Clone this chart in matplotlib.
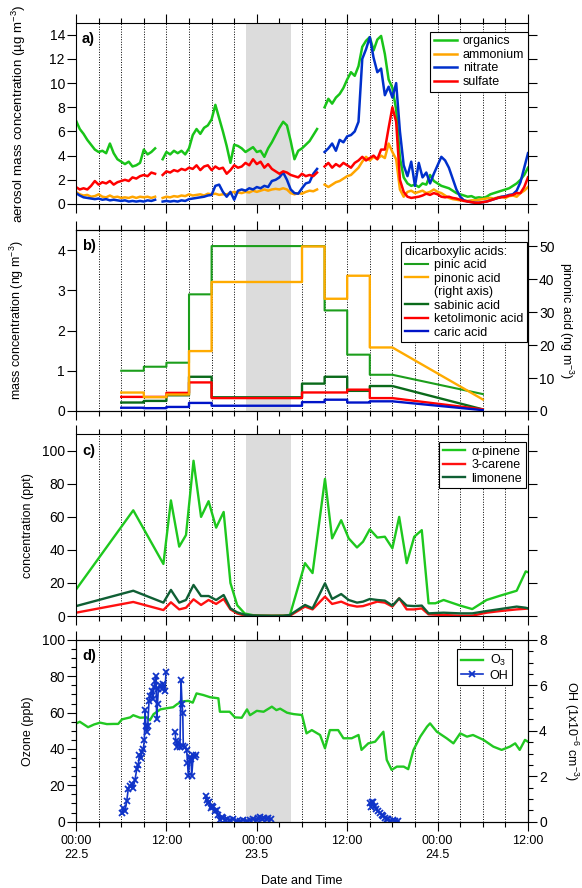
"""Four-panel time series: aerosol, dicarboxylic acids, monoterpenes, ozone/OH."""

import matplotlib

matplotlib.use("Agg")
import matplotlib.pyplot as plt
import numpy as np
from matplotlib.lines import Line2D
from matplotlib.ticker import MultipleLocator, NullFormatter

plt.rcParams["font.family"] = ["Liberation Sans", "DejaVu Sans"]
plt.rcParams["mathtext.fontset"] = "custom"
plt.rcParams["mathtext.rm"] = "Liberation Sans"
plt.rcParams["mathtext.it"] = "Liberation Sans:italic"
plt.rcParams["axes.linewidth"] = 0.8

nan = np.nan

# ---- panel a: AMS aerosol composition (hours since 22.5 00:00, half-hour steps)
aerosol_hours = np.arange(0, 60.5, 0.5)
organics = [
    6.9, 6.2, 5.8, 5.3, 4.9, 4.5, 4.3, 4.4, 4.2, 5.0,
    4.2, 3.7, 3.5, 3.3, 3.5, 3.1, 3.2, 3.4, 4.5, 4.1,
    4.3, 4.6, nan, 3.7, 4.3, 4.1, 4.4, 4.2, 4.4, 4.1,
    4.6, 5.7, 6.2, 5.8, 6.3, 6.5, 7.0, 8.2, 7.1, 6.0,
    4.8, 3.4, 4.9, 4.8, 4.6, 4.3, 4.5, 4.7, 4.3, 4.4,
    3.9, 4.6, 5.1, 5.7, 6.3, 6.8, 6.5, 5.2, 3.7, 4.4,
    4.6, 4.9, 5.2, 5.7, 6.2, nan, 8.0, 8.7, 8.3, 8.8,
    9.1, 9.6, 10.3, 10.9, 10.6, 11.4, 13.0, 13.5, 13.8, 12.7,
    13.6, 13.9, 12.4, 10.3, 9.6, 7.8, 3.8, 2.2, 1.7, 1.5,
    1.6, 1.4, 1.7, 1.6, 2.4, 1.9, 1.7, 1.5, 1.4, 1.3,
    1.1, 0.9, 0.8, 0.7, 0.6, 0.65, 0.5, 0.55, 0.5, 0.6,
    0.8, 0.9, 1.0, 1.1, 1.2, 1.3, 1.5, 1.7, 2.0, 2.4,
    3.0,
]
ammonium = [
    1.0, 0.8, 0.7, 0.75, 0.6, 0.65, 0.8, 0.6, 0.55, 0.7,
    0.55, 0.6, 0.5, 0.55, 0.5, 0.6, 0.5, 0.6, 0.55, 0.6,
    0.5, 0.6, nan, 0.5, 0.6, 0.55, 0.65, 0.6, 0.7, 0.65,
    0.8, 0.7, 0.75, 0.8, 0.7, 0.85, 0.8, 0.85, 0.75, 0.8,
    0.8, 0.9, 1.0, 0.95, 0.9, 1.0, 0.95, 1.1, 1.0, 1.1,
    1.2, 1.1, 1.2, 1.25, 1.2, 1.3, 1.2, 0.9, 0.8, 0.9,
    0.85, 1.0, 1.1, 1.05, 1.2, nan, 1.6, 1.4, 1.6, 1.8,
    1.9, 2.1, 2.3, 2.4, 2.7, 3.0, 3.5, 3.9, 3.6, 3.9,
    3.7, 4.0, 3.8, 5.0, 4.3, 3.7, 1.2, 0.6, 1.0, 1.1,
    0.9, 1.0, 1.1, 0.9, 1.0, 1.2, 1.0, 0.9, 0.7, 0.5,
    0.4, 0.35, 0.3, 0.3, 0.25, 0.3, 0.3, 0.35, 0.4, 0.45,
    0.5, 0.45, 0.55, 0.6, 0.5, 0.65, 0.7, 0.6, 0.9, 1.1,
    1.4,
]
nitrate = [
    0.9, 0.7, 0.55, 0.5, 0.45, 0.4, 0.45, 0.35, 0.4, 0.3,
    0.35, 0.3, 0.25, 0.3, 0.2, 0.25, 0.2, 0.25, 0.2, 0.3,
    0.25, 0.35, nan, 0.2, 0.25, 0.2, 0.25, 0.2, 0.3, 0.25,
    0.4, 0.45, 0.5, 0.55, 0.6, 0.7, 0.75, 1.5, 1.6, 1.0,
    0.6, 1.0, 0.35, 1.1, 1.2, 1.1, 1.3, 1.2, 1.4, 1.3,
    1.5, 1.4, 1.9, 2.0, 2.2, 2.6, 2.0, 1.2, 0.9, 0.85,
    1.3, 1.7, 1.8, 2.5, 2.9, nan, 4.3, 4.6, 5.0, 4.4,
    5.3, 5.1, 5.6, 5.7, 6.0, 6.8, 12.0, 12.8, 13.8, 12.1,
    10.9, 11.2, 9.0, 9.7, 8.8, 10.0, 6.0, 3.2, 2.3, 3.5,
    1.5, 3.4, 2.2, 2.6, 1.7, 2.5, 3.2, 3.9, 3.6, 3.0,
    2.1, 1.2, 0.6, 0.3, 0.2, 0.15, 0.1, 0.1, 0.15, 0.2,
    0.3, 0.4, 0.5, 0.6, 0.65, 0.75, 0.8, 1.1, 1.8, 3.0,
    4.2,
]
sulfate = [
    1.4, 1.2, 1.3, 1.2, 1.5, 1.9, 1.6, 1.8, 1.7, 1.9,
    1.6, 1.8, 1.9, 2.0, 1.9, 2.2, 2.1, 2.3, 2.4, 2.3,
    2.6, 2.5, nan, 2.4, 2.7, 2.6, 2.8, 2.7, 2.9, 2.8,
    3.0, 2.9, 3.2, 2.8, 3.1, 3.2, 2.8, 3.1, 2.9, 3.0,
    2.5, 2.8, 3.2, 3.0, 3.1, 3.4, 3.2, 3.7, 3.3, 3.5,
    3.0, 3.3, 2.9, 2.7, 2.5, 2.7, 2.6, 2.4, 2.3, 2.2,
    2.5, 2.3, 2.4, 2.3, 2.6, nan, 3.1, 3.4, 3.0, 3.3,
    3.1, 3.4, 3.2, 3.0, 3.4, 3.6, 3.9, 3.6, 3.8, 4.0,
    3.7, 4.5, 4.5, 6.3, 8.0, 6.8, 2.0, 1.0, 0.6, 0.5,
    0.55, 0.6, 0.7, 0.85, 0.75, 0.9, 0.8, 0.6, 0.55, 0.6,
    0.5, 0.45, 0.35, 0.25, 0.2, 0.15, 0.1, 0.1, 0.15, 0.2,
    0.3, 0.4, 0.5, 0.55, 0.6, 0.7, 0.75, 0.9, 0.9, 1.4,
    2.2,
]

# ---- panel b: filter samples (start/stop hours), last sample drawn as a ramp
filter_edges = [6, 9, 12, 15, 18, 30, 33, 36, 39, 42]
filter_end_hour = 54
pinic = [1.0, 1.1, 1.2, 2.9, 4.1, 4.1, 2.5, 1.4, 0.9]
pinic_end = 0.42
pinonic = [5.6, 4.2, 5.0, 18.2, 39.2, 50.0, 34.1, 41.1, 19.3]
pinonic_end = 3.5
sabinic = [0.21, 0.25, 0.39, 0.85, 0.34, 0.68, 0.85, 0.5, 0.62]
sabinic_end = 0.04
ketolimonic = [0.35, 0.35, 0.45, 0.71, 0.32, 0.46, 0.46, 0.53, 0.32]
ketolimonic_end = 0.04
caric = [0.08, 0.07, 0.1, 0.2, 0.13, 0.22, 0.28, 0.21, 0.24]
caric_end = 0.02

# ---- panel c: monoterpenes
terpene_hours = [
    0, 7.6, 11.6, 12.6, 13.7, 14.6, 15.6, 16.6, 17.6, 18.6, 19.6, 20.5, 21.4,
    22.4, 23.5, 24.5, 26.0, 27.5, 28.4, 30.4, 31.4, 33.05, 34.0, 35.2, 36.2,
    37.3, 38.1, 39.0, 40.0, 41.0, 42.0, 42.9, 43.9, 44.9, 45.9, 46.8, 47.7,
    48.8, 51.0, 52.6, 54.5, 56.3, 58.5, 59.7, 60,
]
alpha_pinene = [
    16, 64, 31.5, 70, 42, 49, 94, 60, 69.5, 53.5, 63, 20, 6.5,
    1.5, 0.5, 0.3, 0.2, 0.3, 0.6, 32, 26, 83, 47, 58, 47,
    41.5, 45, 52.5, 47.5, 48, 41, 60, 32, 48, 52, 7.7, 7.7,
    9.7, 6.3, 4.2, 9.7, 12.3, 15.3, 27, 26.5,
]
carene = [
    2.0, 8.5, 3.6, 8.3, 4.0, 5.0, 10.1, 6.7, 9.7, 7.3, 10.3, 4.0, 1.5,
    0.3, 0.1, 0.1, 0.1, 0.1, 0.2, 5.7, 4.0, 11.7, 7.3, 8.7, 6.7,
    5.7, 6.0, 7.3, 8.7, 8.1, 5.7, 10.7, 4.0, 4.0, 4.6, 1.0, 0.8,
    0.6, 0.2, 0.2, 2.0, 3.0, 4.0, 4.4, 4.6,
]
limonene = [
    6.0, 15.3, 8.1, 15.8, 8.1, 9.7, 18.8, 12.1, 12.1, 9.7, 12.7, 4.6, 2.2,
    0.8, 0.3, 0.2, 0.1, 0.1, 0.6, 6.7, 4.6, 19.8, 10.3, 13.3, 9.7,
    8.1, 8.7, 10.3, 9.7, 9.3, 6.3, 10.7, 6.3, 6.0, 6.3, 1.6, 1.8,
    2.0, 1.6, 1.6, 3.0, 4.2, 5.7, 5.0, 4.6,
]

# ---- panel d: ozone and OH
o3_hours = [
    0, 0.5, 1.6, 2.4, 3.2, 4.1, 5.0, 5.6, 6.1, 6.6, 7.2, 7.6, 8.5, 9.4, 9.8,
    10.3, 11.2, 12.0, 12.9, 13.4, 14.0, 14.9, 15.5, 16.0, 16.9, 17.8, 18.9,
    19.1, 20.4, 21.1, 22.0, 22.7, 23.1, 24.0, 24.9, 26.0, 26.6, 27.1, 28.0,
    28.4, 28.9, 30.0, 30.6, 31.3, 32.4, 33.05, 33.7, 34.8, 35.5, 36.6, 37.5,
    37.9, 38.8, 39.7, 40.8, 41.25, 41.9, 42.6, 43.5, 44.1, 44.8, 45.7, 46.6,
    47.0, 47.9, 49.2, 50.1, 51.0, 51.9, 52.7, 54.1, 55.4, 56.5, 57.6, 58.3,
    58.9, 59.6, 60,
]
o3_ppb = [
    54, 55, 52, 53.5, 54.5, 53.7, 53.8, 53.8, 56.3, 56.8, 57.4, 58.6, 57.2,
    57.4, 55.8, 59.2, 61.8, 62.4, 63, 64.6, 66.1, 66.5, 65.5, 70.6, 69.7,
    68.5, 67.9, 60.5, 60.5, 57.4, 57.2, 61.8, 58.6, 61, 60.5, 63.3, 61.4,
    62.2, 60, 59.6, 59.2, 58.7, 48.6, 50.4, 47.7, 40.4, 50.4, 50.4, 45.9,
    45.9, 47.7, 39.5, 43.1, 44, 49.5, 34, 28.5, 30.3, 30.3, 28.9, 39.5,
    46.8, 52.3, 54.1, 49.5, 45.9, 43.1, 48.6, 46.8, 47.7, 45, 41.3, 39.5,
    41.3, 43.1, 39.5, 45, 44,
]
oh_hours = [
    6.07, 6.28, 6.5, 6.73, 6.94, 7.17, 7.39, 7.6, 7.83, 8.06, 8.27, 8.4,
    8.59, 8.76, 8.94, 9.07, 9.16, 9.29, 9.39, 9.52, 9.69, 9.86, 10.05,
    10.22, 10.35, 10.49, 10.62, 10.71, 10.82, 10.93, 11.15, 11.38, 11.59,
    11.81, 11.95, nan,
    13.14, 13.27, 13.36, 13.58, 13.8, 13.94, 14.07, 14.17, 14.24, 14.47,
    14.69, 14.8, 14.91, 15.13, 15.27, 15.36, 15.57, 15.75, 15.93, nan,
    17.22, 17.35, 17.48, 17.7, 17.88, 18.05, 18.23, 18.45, 18.67, 18.89,
    19.12, 19.34, 19.55, 19.78, 20.05, 20.44, 20.84, 21.33, 21.77, 22.2,
    22.66, 23.1, 23.54, 23.98, 24.2, 24.43, 24.69, 24.96, 25.3, 25.5,
    25.85, nan,
    39.03, 39.16, 39.3, 39.47, 39.63, 39.83, 40.09, 40.36, 40.6, 40.81,
    41.0, 41.25, 41.46, 41.68, 42.1, 42.35, 42.8,
]
oh_conc = [
    0.40, 0.60, 0.45, 0.90, 1.45, 1.55, 1.65, 1.50, 1.85, 2.30, 2.50, 2.95,
    2.80, 3.05, 3.20, 3.60, 4.90, 4.20, 3.95, 4.20, 5.30, 5.55, 5.75,
    5.40, 5.95, 6.20, 6.40, 4.50, 5.20, 5.85, 6.00, 5.85, 6.05,
    5.75, 6.60, nan,
    3.95, 3.55, 3.30, 3.50, 3.30, 6.25, 5.20, 4.80, 3.35, 3.30,
    3.15, 2.60, 2.00, 2.85, 2.75, 2.00, 2.95, 2.85, 2.95, nan,
    1.15, 0.95, 0.80, 0.88, 0.60, 0.70, 0.66, 0.45, 0.51, 0.30,
    0.07, 0.20, 0.15, 0.07, 0.12, 0.07, 0.10, 0.05, 0.03, 0.07,
    0.04, 0.08, 0.10, 0.07, 0.18, 0.20, 0.12, 0.15, 0.10, 0.17,
    0.12, nan,
    0.80, 0.65, 0.85, 0.88, 0.70, 0.55, 0.45, 0.40, 0.30, 0.25,
    0.15, 0.10, 0.12, 0.05, 0.08, 0.03, 0.04,
]

time_ticks = [0, 12, 24, 36, 48, 60]
time_labels = ["00:00\n22.5", "12:00", "00:00\n23.5", "12:00", "00:00\n24.5", "12:00"]
night_span = (22.5, 28.5)

TICK_FS = 10
LABEL_FS = 9
LEGEND_FS = 9


def step_path(edges, values, end_hour, end_value):
    """Turn per-sample values into a step outline ending in a ramp."""
    xs, ys = [], []
    for start, stop, value in zip(edges[:-1], edges[1:], values):
        xs += [start, stop]
        ys += [value, value]
    return xs + [end_hour], ys + [end_value]


def style_time_axis(ax):
    ax.set_xlim(0, 60)
    ax.xaxis.set_major_locator(MultipleLocator(12))
    ax.xaxis.set_minor_locator(MultipleLocator(3))
    ax.tick_params(axis="x", which="both", direction="out", top=True, bottom=True)
    ax.tick_params(axis="x", which="major", length=6.5, width=0.8)
    ax.tick_params(axis="x", which="minor", length=3.5, width=0.8)
    ax.xaxis.grid(True, which="both", linestyle=(0, (1, 1.6)), color="black", linewidth=0.7)
    ax.xaxis.set_major_formatter(NullFormatter())
    ax.axvspan(*night_span, color="#dcdcdc", lw=0, zorder=1.6)


def style_y(ax, right_ticks=True):
    ax.tick_params(axis="y", which="both", direction="out", labelsize=TICK_FS, pad=1.5,
                   left=True, right=right_ticks, labelright=False)
    ax.tick_params(axis="y", which="major", length=6.5, width=0.8)
    ax.tick_params(axis="y", which="minor", length=3.5, width=0.8)


def add_legend(ax, handles, labels, anchor, **kwargs):
    leg = ax.legend(handles, labels, loc="upper right", bbox_to_anchor=anchor,
                    borderaxespad=0, fontsize=LEGEND_FS, handlelength=1.8,
                    handletextpad=0.5, labelspacing=0.12, borderpad=0.3,
                    fancybox=False, framealpha=1, **kwargs)
    leg.get_frame().set_edgecolor("black")
    leg.get_frame().set_linewidth(0.8)
    return leg


def panel_label(ax, text):
    ax.text(0.013, 0.948, text, transform=ax.transAxes, ha="left", va="top",
            fontsize=10.5, fontweight="bold", zorder=5)


fig = plt.figure(figsize=(5.82, 8.88), dpi=100)
ax_a = fig.add_axes([0.1306, 0.7703, 0.7766, 0.2042])
ax_b = fig.add_axes([0.1306, 0.5372, 0.7766, 0.2038])
ax_c = fig.add_axes([0.1306, 0.3063, 0.7766, 0.2046])
ax_d = fig.add_axes([0.1306, 0.0747, 0.7766, 0.2046])

# ---- a
style_time_axis(ax_a)
lw_a = 1.8
a_org, = ax_a.plot(aerosol_hours, organics, color="#19c419", lw=lw_a, zorder=2)
a_nh4, = ax_a.plot(aerosol_hours, ammonium, color="#ffa500", lw=lw_a, zorder=2)
a_no3, = ax_a.plot(aerosol_hours, nitrate, color="#0030cc", lw=lw_a, zorder=2)
a_so4, = ax_a.plot(aerosol_hours, sulfate, color="#ff0000", lw=lw_a, zorder=2)
ax_a.set_ylim(0, 15)
ax_a.yaxis.set_major_locator(MultipleLocator(2))
style_y(ax_a)
ax_a.set_ylabel("aerosol mass concentration (µg m$^{-3}$)", fontsize=9.6)
ax_a.yaxis.set_label_coords(-0.106, 0.5)
add_legend(ax_a, [a_org, a_nh4, a_no3, a_so4],
           ["organics", "ammonium", "nitrate", "sulfate"], (1.0, 0.95))
panel_label(ax_a, "a)")

# ---- b
style_time_axis(ax_b)
ax_b2 = ax_b.twinx()
lw_b = 1.7
x, y = step_path(filter_edges, pinic, filter_end_hour, pinic_end)
b_pinic, = ax_b.plot(x, y, color="#1c9e1c", lw=1.5, zorder=2)
x, y = step_path(filter_edges, sabinic, filter_end_hour, sabinic_end)
b_sab, = ax_b.plot(x, y, color="#0a6a1a", lw=lw_b, zorder=2)
x, y = step_path(filter_edges, ketolimonic, filter_end_hour, ketolimonic_end)
b_keto, = ax_b.plot(x, y, color="#ff0000", lw=lw_b, zorder=2)
x, y = step_path(filter_edges, caric, filter_end_hour, caric_end)
b_caric, = ax_b.plot(x, y, color="#0014c8", lw=lw_b, zorder=2)
x, y = step_path(filter_edges, pinonic, filter_end_hour, pinonic_end)
b_pinonic, = ax_b2.plot(x, y, color="#ffab00", lw=lw_b, zorder=2)
ax_b.set_ylim(0, 4.5)
ax_b.yaxis.set_major_locator(MultipleLocator(1))
style_y(ax_b, right_ticks=False)
ax_b2.set_ylim(0, 55)
ax_b2.yaxis.set_major_locator(MultipleLocator(10))
ax_b2.tick_params(axis="y", direction="out", length=6.5, width=0.8, labelsize=TICK_FS, pad=1.5)
ax_b.set_ylabel("mass concentration (ng m$^{-3}$)", fontsize=LABEL_FS)
ax_b.yaxis.set_label_coords(-0.111, 0.5)
ax_b2.set_ylabel("pinonic acid (ng m$^{-3}$)", fontsize=LABEL_FS, rotation=270, va="bottom")
ax_b2.yaxis.set_label_coords(1.064, 0.5)
blank = Line2D([], [], color="none")
add_legend(ax_b2, [b_pinic, b_pinonic, blank, b_sab, b_keto, b_caric],
           ["pinic acid", "pinonic acid", "(right axis)", "sabinic acid",
            "ketolimonic acid", "caric acid"], (0.998, 0.935),
           title="dicarboxylic acids:", title_fontsize=LEGEND_FS, alignment="left")
panel_label(ax_b, "b)")

# ---- c
style_time_axis(ax_c)
lw_c = 1.7
c_ap, = ax_c.plot(terpene_hours, alpha_pinene, color="#1ec81e", lw=lw_c, zorder=2)
c_car, = ax_c.plot(terpene_hours, carene, color="#ff1010", lw=lw_c, zorder=2)
c_lim, = ax_c.plot(terpene_hours, limonene, color="#0f5f34", lw=lw_c, zorder=2)
ax_c.set_ylim(0, 110)
ax_c.yaxis.set_major_locator(MultipleLocator(20))
style_y(ax_c)
ax_c.set_ylabel("concentration (ppt)", fontsize=LABEL_FS)
ax_c.yaxis.set_label_coords(-0.094, 0.5)
add_legend(ax_c, [c_ap, c_car, c_lim], ["α-pinene", "3-carene", "limonene"], (0.995, 0.959))
panel_label(ax_c, "c)")

# ---- d
style_time_axis(ax_d)
ax_d2 = ax_d.twinx()
d_o3, = ax_d.plot(o3_hours, o3_ppb, color="#22c822", lw=1.7, zorder=2)
d_oh, = ax_d2.plot(oh_hours, oh_conc, color="#1034c8", lw=1.2, marker="x",
                   markersize=4.5, markeredgewidth=1.3, zorder=2)
ax_d.set_ylim(0, 100)
ax_d.yaxis.set_major_locator(MultipleLocator(20))
ax_d.yaxis.set_minor_locator(MultipleLocator(5))
style_y(ax_d, right_ticks=False)
ax_d2.set_ylim(0, 8)
ax_d2.yaxis.set_major_locator(MultipleLocator(2))
ax_d2.yaxis.set_minor_locator(MultipleLocator(0.5))
ax_d2.tick_params(axis="y", which="both", direction="out", width=0.8, labelsize=TICK_FS, pad=1.5)
ax_d2.tick_params(axis="y", which="major", length=6.5)
ax_d2.tick_params(axis="y", which="minor", length=3.5)
ax_d.set_ylabel("Ozone (ppb)", fontsize=LABEL_FS)
ax_d.yaxis.set_label_coords(-0.094, 0.5)
ax_d2.set_ylabel("OH (1x10$^{-6}$ cm$^{-3}$)", fontsize=LABEL_FS, rotation=270, va="bottom")
ax_d2.yaxis.set_label_coords(1.075, 0.5)
ax_d.set_xticks(time_ticks)
ax_d.set_xticklabels(time_labels, fontsize=9)
ax_d.tick_params(axis="x", which="major", pad=3)
ax_d.set_xlabel("Date and Time", fontsize=LABEL_FS)
ax_d.xaxis.set_label_coords(0.5, -0.293)
add_legend(ax_d2, [d_o3, d_oh], ["O$_3$", "OH"], (0.965, 0.949), numpoints=1)
panel_label(ax_d, "d)")

fig.savefig("out.png", dpi=100)
